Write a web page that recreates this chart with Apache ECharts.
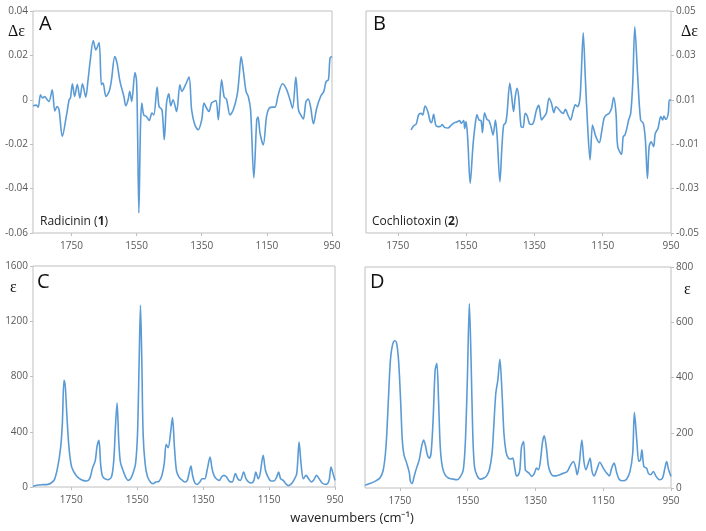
<!DOCTYPE html>
<html><head><meta charset="utf-8">
<script src="https://cdn.jsdelivr.net/npm/echarts@6/dist/echarts.min.js"></script>
<style>html,body{margin:0;padding:0;background:#fff}#c{width:706px;height:531px}</style>
</head><body><div id="c"></div>
<script>
// tick labels
const xTicks = [1750, 1550, 1350, 1150, 950];

// Panel A: VCD of Radicinin (1)
const waveA = [1868,1858,1852,1845,1839,1832,1827,1819,1809,1801,1794,1788,1778,1765,1757,1753,1747,1740,1732,1724,1716,1706,1699,1692,1683,1675,1665,1658,1653,1644,1634,1627,1617,1610,1601,1589,1583,1576,1571,1565,1555,1550,1547,1543,1538,1534,1528,1520,1511,1503,1497,1487,1481,1472,1465,1458,1451,1445,1438,1427,1417,1411,1402,1389,1381,1371,1361,1350,1343,1335,1328,1320,1313,1306,1299,1289,1281,1274,1263,1253,1241,1235,1229,1222,1214,1207,1200,1190,1181,1177,1171,1161,1151,1143,1132,1125,1115,1102,1089,1079,1071,1061,1053,1046,1038,1030,1023,1016,1007,997,985,975,968,961,956,950];
const deltaA = [-0.0027,-0.0024,-0.0033,0.0023,0.0008,0.0015,0.0006,-0.0008,0.0045,-0.005,-0.003,-0.0045,-0.0165,-0.0068,0,0.0008,0.0072,0.0015,0.007,0.0008,0.0072,0.0012,0.009,0.018,0.0267,0.0225,0.0258,0.0068,0.0075,0.0015,0.0038,0.009,0.0195,0.0165,0.0083,0.0015,-0.0027,0,0.0038,-0.0008,0.0123,0.0083,-0.0135,-0.051,-0.012,-0.0015,-0.0068,-0.0075,-0.0093,-0.006,-0.0068,0.0057,-0.003,-0.0045,-0.018,-0.0015,0.0027,-0.0027,0,-0.0053,0.0068,0.0038,0.006,0.0102,-0.0045,-0.0113,-0.0135,-0.009,-0.0015,-0.0038,-0.0053,-0.0015,-0.0008,-0.0003,-0.009,0.009,0.0012,0.0003,-0.0068,-0.0045,0.0023,0.0105,0.0195,0.0128,0.0038,0.0015,-0.0045,-0.0352,-0.009,-0.0078,-0.015,-0.0203,-0.0075,-0.0038,-0.0033,-0.0033,0.0023,0.0072,0.0045,0,-0.0038,0.0102,-0.0045,-0.0068,-0.0086,-0.0008,0.0003,-0.003,-0.0108,-0.0038,0.0015,0.0038,0.0083,0.009,0.0188,0.0195];

// Panel B: VCD of Cochliotoxin (2)
const waveB = [1711,1704,1696,1689,1682,1677,1670,1662,1655,1651,1645,1639,1633,1626,1620,1613,1603,1594,1584,1577,1569,1564,1557,1554,1550,1545,1538,1530,1524,1518,1512,1506,1502,1496,1489,1483,1477,1471,1464,1459,1451,1445,1440,1434,1430,1422,1417,1411,1406,1401,1396,1389,1383,1377,1371,1364,1357,1351,1344,1337,1329,1323,1315,1307,1300,1293,1287,1281,1273,1266,1259,1252,1244,1237,1230,1224,1217,1213,1207,1201,1194,1187,1180,1176,1170,1160,1153,1146,1139,1131,1124,1118,1111,1106,1095,1090,1085,1080,1074,1068,1062,1056,1048,1039,1031,1025,1019,1014,1008,1001,996,988,980,974,971,965,958,955,950];
const deltaB = [-0.0036,-0.0018,-0.0009,0.0032,0.0039,0.0032,0.0072,0.0047,0.0002,-0.0003,0.0035,-0.0014,-0.0021,-0.0021,-0.0012,-0.0024,-0.0027,-0.0015,-0.0003,0,0.0006,-0.0006,0.0006,-0.0029,0.0002,-0.0081,-0.0276,-0.0111,-0.0021,0.0032,0.0009,0.0006,-0.0048,0.0042,0.0012,0.0006,-0.0021,-0.0059,0.0009,-0.0066,-0.0269,-0.0111,-0.0014,-0.0003,0.0039,0.0174,0.0122,0.0047,0.0114,0.0152,0.0114,-0.0021,-0.0024,0.0039,0.0027,-0.0009,-0.0011,0.0006,0.0054,0.0075,0.0009,0.0021,0.0039,0.0107,0.0084,0.0042,0.0069,0.0062,0.0047,0.0039,0.0057,0.0032,0.0009,0.0047,0.0077,0.0069,0.0099,0.0204,0.0402,0.0204,-0.0021,-0.0171,-0.0014,-0.0033,-0.0066,-0.0093,-0.0044,0.0017,0.0032,0.0039,0.0062,0.011,0.0039,-0.0111,-0.0146,-0.0066,-0.0059,-0.0033,0.0009,0.0039,0.0174,0.0429,0.0219,0.0009,-0.0006,-0.0081,-0.0254,-0.0111,-0.0089,-0.0111,-0.0051,-0.0029,0.0024,0.0009,0.0027,0.0012,0.0039,0.0099,0.0099];

// Panel C: IR of Radicinin (1)
const waveC = [1866,1851,1836,1821,1811,1801,1791,1782,1777,1772,1768,1763,1757,1750,1743,1735,1725,1715,1704,1694,1686,1677,1672,1666,1661,1656,1649,1639,1628,1621,1616,1611,1606,1601,1593,1585,1578,1570,1563,1555,1549,1544,1540,1536,1532,1526,1519,1510,1502,1494,1484,1475,1468,1462,1456,1449,1443,1437,1431,1423,1413,1405,1398,1393,1387,1382,1375,1368,1360,1353,1345,1338,1329,1323,1317,1310,1301,1294,1287,1279,1271,1262,1252,1245,1237,1227,1220,1212,1203,1196,1190,1183,1177,1168,1161,1153,1144,1135,1127,1121,1115,1107,1099,1092,1084,1075,1066,1059,1053,1046,1038,1030,1022,1014,1006,998,989,977,968,962,956,950];
const epsC = [5,14,17,19,29,53,145,290,459,772,724,507,290,157,113,84,60,48,43,60,133,193,290,338,169,84,60,53,72,193,434,608,338,181,121,72,48,60,97,169,386,917,1315,917,386,169,77,36,24,36,41,84,169,309,285,386,502,290,121,72,48,36,48,97,152,84,29,19,36,60,60,121,217,133,84,60,48,72,84,72,43,36,97,60,48,109,60,36,29,48,109,60,97,229,121,72,43,43,72,109,60,48,24,10,19,48,97,326,169,60,84,60,36,53,84,60,29,19,48,145,97,48];

// Panel D: IR of Cochliotoxin (2)
const waveD = [1853,1839,1824,1809,1799,1791,1784,1778,1772,1765,1760,1754,1748,1743,1738,1730,1722,1719,1714,1708,1701,1693,1686,1680,1674,1669,1663,1658,1652,1646,1641,1636,1631,1625,1617,1607,1593,1581,1571,1563,1557,1551,1545,1540,1535,1530,1522,1512,1502,1494,1486,1478,1473,1467,1461,1455,1449,1443,1437,1430,1423,1417,1411,1406,1400,1396,1391,1385,1380,1376,1369,1361,1353,1347,1341,1335,1329,1324,1317,1312,1305,1297,1288,1278,1266,1256,1246,1238,1231,1227,1221,1213,1207,1201,1194,1189,1183,1177,1169,1160,1150,1140,1132,1125,1118,1110,1103,1093,1081,1071,1063,1058,1051,1045,1040,1036,1030,1022,1017,1010,1002,994,984,975,968,963,957,950];
const epsD = [10,16,24,36,66,150,319,463,517,533,526,463,319,174,120,90,54,24,16,42,72,102,150,174,150,120,108,126,247,427,451,319,150,78,48,36,32,30,42,66,162,391,668,463,198,78,44,32,36,44,66,126,223,343,391,466,355,198,132,108,105,108,72,44,48,66,150,168,66,60,54,42,54,72,66,102,168,189,138,81,54,44,44,48,54,60,84,96,72,48,84,174,96,66,90,108,60,44,66,93,72,54,44,72,90,54,32,26,32,60,126,273,174,96,102,138,78,72,54,48,60,42,30,36,72,96,66,42];

const zip = (a, b) => a.map((v, i) => [v, b[i]]);

const chart = echarts.init(document.getElementById('c'), null, {renderer: 'canvas'});
const LBL = '#595959', BORDER = '#bfbfbf', LINE = '#5b9bd5';
const FONT = 'Open Sans';

const grids = [
  {left: 33, top: 11, width: 299, height: 222},
  {left: 366, top: 11, width: 305, height: 222},
  {left: 33, top: 266, width: 302, height: 221},
  {left: 365, top: 267, width: 306, height: 221}
].map(g => Object.assign(g, {show: true, borderColor: BORDER, borderWidth: 1, containLabel: false}));

const xMax = [1868, 1843, 1866, 1853];
const xAxes = xMax.map((mx, i) => ({
  type: 'value', gridIndex: i, inverse: true, min: 950, max: mx, interval: 200, position: 'bottom',
  axisLine: {show: false, onZero: false},
  axisTick: {show: true, length: 3, lineStyle: {color: BORDER}, customValues: xTicks},
  axisLabel: {color: LBL, fontSize: 10, fontFamily: FONT, margin: 8, customValues: xTicks, formatter: v => String(v)},
  splitLine: {show: false}
}));

const fmt2 = v => Math.abs(v) < 1e-9 ? '0' : v.toFixed(2);
const yCfg = [
  {min: -0.06, max: 0.04, interval: 0.02, position: 'left', f: fmt2},
  {min: -0.05, max: 0.05, interval: 0.02, position: 'right', f: fmt2},
  {min: 0, max: 1600, interval: 400, position: 'left', f: v => String(Math.round(v))},
  {min: 0, max: 800, interval: 200, position: 'right', f: v => String(Math.round(v))}
];
const yAxes = yCfg.map((c, i) => ({
  type: 'value', gridIndex: i, min: c.min, max: c.max, interval: c.interval, position: c.position,
  axisLine: {show: false, onZero: false},
  axisTick: {show: true, length: 3, lineStyle: {color: BORDER}},
  axisLabel: {color: LBL, fontSize: 10, fontFamily: FONT, margin: 5, formatter: c.f},
  splitLine: {show: false}
}));

const datasets = [zip(waveA, deltaA), zip(waveB, deltaB), zip(waveC, epsC), zip(waveD, epsD)];
const series = datasets.map((d, i) => ({
  type: 'line', xAxisIndex: i, yAxisIndex: i, data: d, showSymbol: false, smooth: 0.3,
  lineStyle: {color: LINE, width: 1.6}, itemStyle: {color: LINE}, silent: true, animation: false
}));

const txt = (x, y, text, size, extra) => ({
  type: 'text', x: x, y: y, silent: true,
  style: Object.assign({text: text, fontSize: size, fontFamily: FONT, fill: '#111', textVerticalAlign: 'middle'}, extra || {})
});

const graphic = [
  txt(39, 24, 'A', 20),
  txt(8, 32, 'Δε', 16, {fontFamily: 'Liberation Serif'}),
  {type: 'text', x: 40, y: 222, silent: true, style: {
    text: '{n|Radicinin (}{b|1}{n|)}', textVerticalAlign: 'middle',
    rich: {n: {fontSize: 12, fontFamily: FONT, fill: '#222'}, b: {fontSize: 12, fontFamily: FONT, fontWeight: 'bold', fill: '#222'}}
  }},
  txt(373, 24, 'B', 20),
  txt(681, 32, 'Δε', 16, {fontFamily: 'Liberation Serif'}),
  {type: 'text', x: 372, y: 222, silent: true, style: {
    text: '{n|Cochliotoxin (}{b|2}{n|)}', textVerticalAlign: 'middle',
    rich: {n: {fontSize: 12, fontFamily: FONT, fill: '#222'}, b: {fontSize: 12, fontFamily: FONT, fontWeight: 'bold', fill: '#222'}}
  }},
  txt(37, 282, 'C', 20),
  txt(10, 288, 'ε', 16, {fontFamily: 'Liberation Serif'}),
  txt(370, 282, 'D', 20),
  txt(684, 290, 'ε', 16, {fontFamily: 'Liberation Serif'}),
  {type: 'text', x: 352, y: 518, silent: true, style: {
    text: 'wavenumbers (cm⁻¹)', textAlign: 'center', textVerticalAlign: 'middle',
    fontSize: 13, fontFamily: FONT, fill: '#222'
  }}
];

chart.setOption({
  animation: false,
  backgroundColor: '#fff',
  grid: grids, xAxis: xAxes, yAxis: yAxes, series: series, graphic: graphic
});
</script></body></html>
